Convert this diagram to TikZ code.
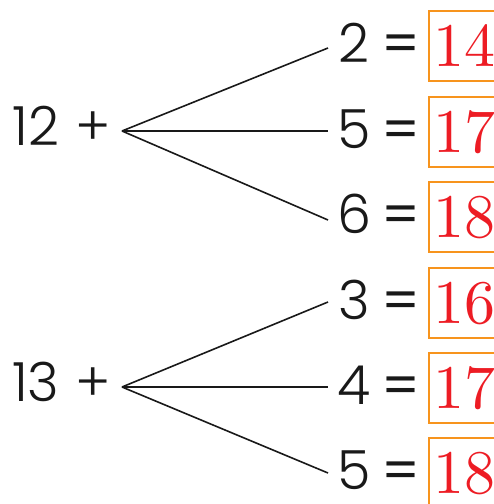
\documentclass[tikz,border=0pt]{standalone}
\usepackage{fontspec}
\IfFontExistsTF{Poppins Light}{\newfontfamily\digfont{Poppins Light}}{\newfontfamily\digfont{Poppins}}
\newfontfamily\eqfont{Poppins}
\newfontfamily\ansfont{lmroman10-regular}[Extension=.otf]
\definecolor{boxorange}{HTML}{F7941D}
\definecolor{ansred}{HTML}{ED1C24}
\tikzset{
  digit/.style={inner sep=0pt, anchor=base, text depth=0pt, font=\digfont\fontsize{54}{60}\selectfont, text=black!90},
  eqsign/.style={inner sep=0pt, anchor=base, text depth=0pt, font=\eqfont\fontsize{54}{60}\selectfont, text=black!90},
  ansbox/.style={draw=boxorange, line width=1.8pt, anchor=north west, minimum width=110pt, minimum height=70pt, inner sep=0pt},
  ans/.style={inner sep=0pt, anchor=base west, text depth=0pt, font=\ansfont\fontsize{62}{70}\selectfont, text=ansred},
  branch/.style={line width=1.6pt, black!90}
}
\begin{document}
\begin{tikzpicture}[x=1pt,y=-1pt]
\useasboundingbox (0,0) rectangle (494,504);
% left expressions
\node[digit] (l1) at (61.5,145) {12\hspace{0.3em}+};
\node[digit] (l2) at (61.5,401) {13\hspace{0.3em}+};
\coordinate (f1) at (122,131);
\coordinate (f2) at (122,387);
% right ends
\coordinate (e1) at (328,48);
\coordinate (e2) at (328,131);
\coordinate (e3) at (328,220);
\coordinate (e4) at (328,302);
\coordinate (e5) at (328,387);
\coordinate (e6) at (328,473);
\foreach \i in {1,2,3} \draw[branch] (f1) -- (e\i);
\foreach \i in {4,5,6} \draw[branch] (f2) -- (e\i);
% rows
\foreach \n/\d/\a/\top in {1/2/14/10, 2/5/17/96, 3/6/18/181, 4/3/16/267, 5/4/17/352, 6/5/18/437}{
  \node[digit] (d\n) at (354,\top+52) {\d};
  \node[eqsign] (q\n) at (401,\top+52) {=};
  \node[ansbox] (b\n) at (428,\top) {};
  \node[ans] (a\n) at (433,\top+56) {\a};
}
\end{tikzpicture}
\end{document}
